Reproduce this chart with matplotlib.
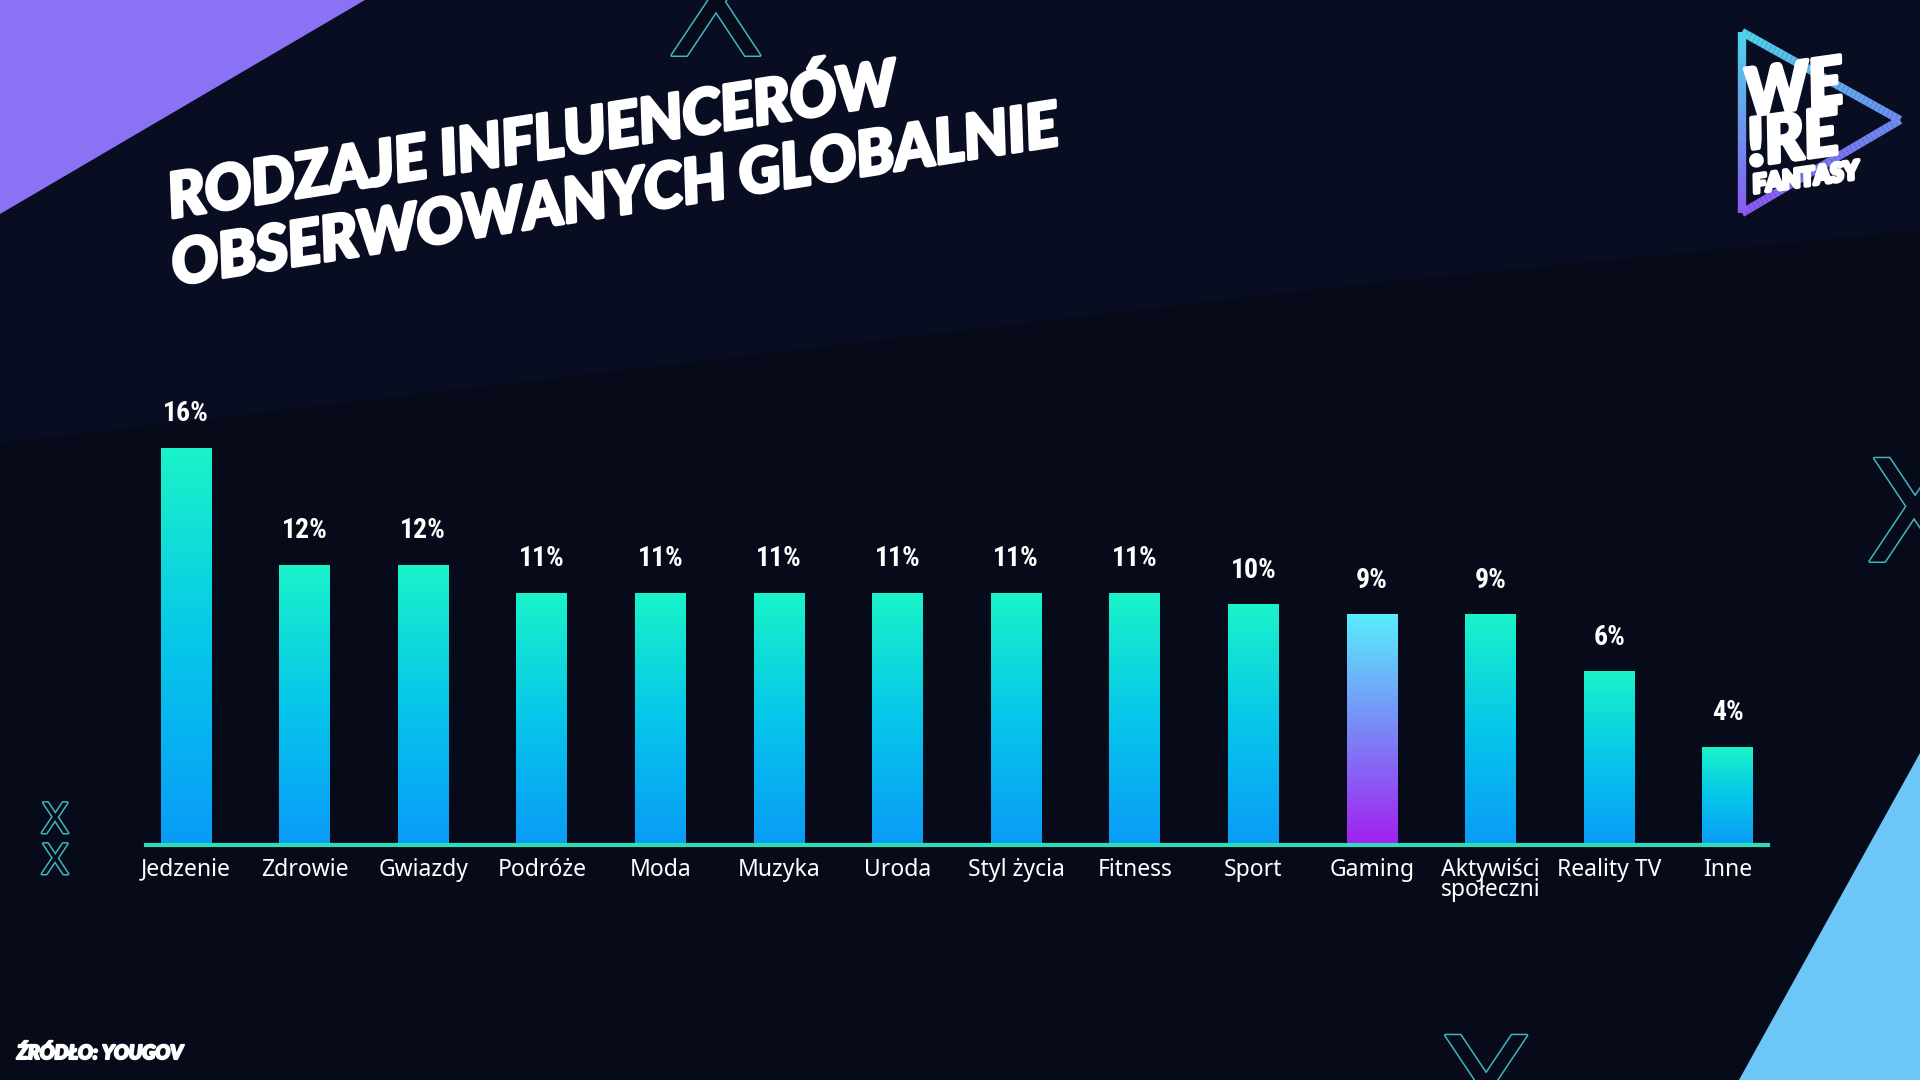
import matplotlib
matplotlib.use("Agg")
import matplotlib.pyplot as plt
import numpy as np
from matplotlib.patches import Polygon
from matplotlib.collections import LineCollection
from matplotlib.colors import LinearSegmentedColormap
import matplotlib.patheffects as pe

# data
categories = ["Jedzenie", "Zdrowie", "Gwiazdy", "Podróże", "Moda", "Muzyka", "Uroda",
              "Styl życia", "Fitness", "Sport", "Gaming", "Aktywiści\nspołeczni",
              "Reality TV", "Inne"]
shares = [16.0, 11.3, 11.3, 10.15, 10.15, 10.15, 10.15, 10.15, 10.15, 9.7, 9.3, 9.3, 7.0, 3.95]
share_labels = ["16%", "12%", "12%", "11%", "11%", "11%", "11%", "11%", "11%", "10%",
                "9%", "9%", "6%", "4%"]
highlight = "Gaming"

title_lines = ["RODZAJE INFLUENCERÓW", "OBSERWOWANYCH GLOBALNIE"]
source = "ŹRÓDŁO: YOUGOV"

BG = "#070a19"
TEAL = "#3fb6c0"
W, H = 1920, 1080
heavy = [pe.withStroke(linewidth=2.5, foreground="white")]
narrow = ["DejaVu Sans Condensed", "Liberation Sans Narrow", "Roboto Condensed", "Roboto", "DejaVu Sans"]

fig = plt.figure(figsize=(19.2, 10.8), dpi=100, facecolor=BG)

# background layer in pixel coords (y down)
bg = fig.add_axes([0, 0, 1, 1])
bg.set_xlim(0, W)
bg.set_ylim(H, 0)
bg.axis("off")
bg.set_facecolor(BG)
bg.add_patch(Polygon([(0, 0), (1920, 0), (1920, 230), (1335, 287), (0, 443)],
                     closed=True, color="#090d21", lw=0, zorder=0))
bg.add_patch(Polygon([(0, 0), (365, 0), (0, 214)], closed=True, color="#8b72f4", lw=0, zorder=1))
bg.add_patch(Polygon([(1739, 1080), (1920, 753), (1920, 1080)], closed=True,
                     color="#6cc6f7", lw=0, zorder=1))

# outline X decorations
def outline_x(x, y, size):
    bg.text(x, y, "X", fontsize=size, color=BG, ha="center", va="center",
            family="DejaVu Sans", zorder=2,
            path_effects=[pe.withStroke(linewidth=2.2, foreground=TEAL)])

outline_x(55, 821, 30)
outline_x(55, 862, 30)
outline_x(716, 16, 102)
outline_x(1485, 1099, 102)
outline_x(1914, 522, 102)

# title
for i, line in enumerate(title_lines):
    bg.text(171 + 4 * i, 218 + 67 * i, line, fontsize=44.5, color="white",
            family="Lato", weight="black", style="italic", rotation=9,
            rotation_mode="anchor", ha="left", va="baseline", zorder=3,
            path_effects=heavy)

# logo
tri = np.array([(1742, 32), (1900, 120), (1742, 213), (1742, 32)])
pts = []
for a, b in zip(tri[:-1], tri[1:]):
    for t in np.linspace(0, 1, 40):
        pts.append(a + (b - a) * t)
pts = np.array(pts)
segs = np.stack([pts[:-1], pts[1:]], axis=1)
logo_cmap = LinearSegmentedColormap.from_list("logo", ["#4fd3ea", "#6d8cf0", "#8a58f2", "#4fd3ea"])
lc = LineCollection(segs, cmap=logo_cmap, linewidths=6, zorder=3)
lc.set_array(np.linspace(0, 1, len(segs)))
bg.add_collection(lc)
for txt, x, y, fs in [("WE", 1748, 116, 47), ("!RE", 1750, 166, 47), ("FANTASY", 1754, 193, 18)]:
    bg.text(x, y, txt, fontsize=fs, color="white", family="Lato", weight="black",
            style="italic", rotation=8, rotation_mode="anchor", ha="left", va="baseline",
            zorder=4, path_effects=[pe.withStroke(linewidth=3, foreground="white")])

bg.text(17, 1059, source, fontsize=14, color="white", family="Lato", weight="black",
        style="italic", ha="left", va="baseline", zorder=3,
        path_effects=[pe.withStroke(linewidth=1.5, foreground="white")])

# chart axes
step = 118.6
x0 = 186
pad = 0.34
left_px = x0 - pad * step
width_px = (len(categories) - 1 + 2 * pad) * step
base_px = 845
ymax = 20
unit_px = 24.8
ax = fig.add_axes([left_px / W, (H - base_px) / H, width_px / W, ymax * unit_px / H])
ax.set_facecolor("none")
for s in ["top", "right", "left"]:
    ax.spines[s].set_visible(False)
ax.spines["bottom"].set_color("#2fdcb8")
ax.spines["bottom"].set_linewidth(3)
ax.set_yticks([])
xs = np.arange(len(categories))
ax.set_xticks(xs)
ax.set_xticklabels(categories, color="white", fontsize=16.5, family="Noto Sans",
                   linespacing=0.8, va="top")
ax.tick_params(axis="x", length=0, pad=9)

bar_cmap = LinearSegmentedColormap.from_list("bar", ["#0a9bf8", "#06c6ea", "#1af3c9"])
game_cmap = LinearSegmentedColormap.from_list("game", ["#a21ff0", "#7b87f6", "#58eefc"])
bars = ax.bar(xs, shares, width=0.43, color="none", edgecolor="none")
grad = np.linspace(0, 1, 256).reshape(-1, 1)
for cat, bar, lab in zip(categories, bars, share_labels):
    cmap = game_cmap if cat == highlight else bar_cmap
    bx, bw, bh = bar.get_x(), bar.get_width(), bar.get_height()
    im = ax.imshow(grad, cmap=cmap, origin="lower", aspect="auto",
                   extent=[bx, bx + bw, 0, bh], zorder=2)
    im.set_clip_path(bar)
    ax.annotate(lab, (bx + bw / 2, bh), xytext=(0, 15), textcoords="offset points",
                ha="center", va="bottom", color="white", fontsize=20, weight="bold",
                family=narrow)
ax.set_xlim(-pad, len(categories) - 1 + pad)
ax.set_ylim(0, ymax)

fig.savefig("out.png", dpi=100, facecolor=BG)
